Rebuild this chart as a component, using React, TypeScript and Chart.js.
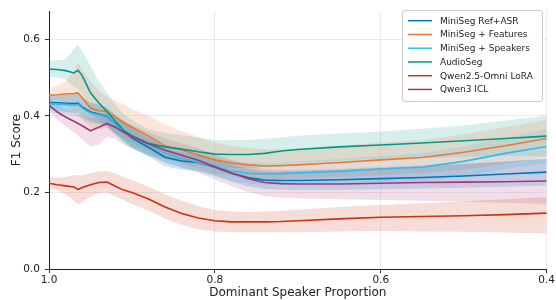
import React, { useEffect, useRef } from "react";
import { Chart, registerables } from "chart.js";

Chart.register(...registerables);

const FONT = '"DejaVu Sans", "Liberation Sans", sans-serif';

const xs = [1.0, 0.99, 0.98, 0.97, 0.965, 0.96, 0.95, 0.94, 0.93, 0.92, 0.91, 0.90, 0.88, 0.86, 0.84, 0.82, 0.80, 0.78, 0.76, 0.74, 0.72, 0.70, 0.65, 0.60, 0.55, 0.50, 0.45, 0.40];

const xTicks = [1.0, 0.8, 0.6, 0.4];
const yTicks = [0.0, 0.2, 0.4, 0.6];

const seriesLabels = ["MiniSeg Ref+ASR", "MiniSeg + Features", "MiniSeg + Speakers", "AudioSeg", "Qwen2.5-Omni LoRA", "Qwen3 ICL"];
const seriesColors = ["#0077BB", "#EE7733", "#33BBEE", "#009988", "#CC3311", "#AA3377"];
const bandColors = ["rgba(0,119,187,0.18)", "rgba(238,119,51,0.18)", "rgba(51,187,238,0.18)", "rgba(0,153,136,0.16)", "rgba(204,51,17,0.17)", "rgba(170,51,119,0.16)"];

// MiniSeg Ref+ASR
const refAsrMean = [0.435, 0.434, 0.433, 0.432, 0.433, 0.423, 0.410, 0.405, 0.398, 0.378, 0.360, 0.342, 0.318, 0.292, 0.282, 0.278, 0.266, 0.250, 0.239, 0.232, 0.231, 0.231, 0.233, 0.236, 0.239, 0.243, 0.248, 0.253];
const refAsrHi = [0.455, 0.454, 0.455, 0.456, 0.458, 0.448, 0.435, 0.430, 0.422, 0.402, 0.384, 0.366, 0.342, 0.316, 0.305, 0.300, 0.288, 0.272, 0.262, 0.255, 0.255, 0.256, 0.259, 0.264, 0.268, 0.274, 0.281, 0.288];
const refAsrLo = [0.415, 0.413, 0.410, 0.408, 0.408, 0.398, 0.385, 0.380, 0.374, 0.354, 0.336, 0.318, 0.294, 0.268, 0.259, 0.256, 0.244, 0.228, 0.216, 0.209, 0.207, 0.206, 0.207, 0.208, 0.210, 0.212, 0.215, 0.218];

// MiniSeg + Features
const featMean = [0.454, 0.455, 0.457, 0.458, 0.460, 0.447, 0.420, 0.414, 0.411, 0.397, 0.382, 0.370, 0.347, 0.321, 0.311, 0.298, 0.285, 0.277, 0.272, 0.269, 0.270, 0.272, 0.278, 0.285, 0.291, 0.305, 0.322, 0.341];
const featHi = [0.472, 0.478, 0.490, 0.515, 0.540, 0.520, 0.490, 0.465, 0.450, 0.440, 0.430, 0.418, 0.400, 0.378, 0.360, 0.345, 0.330, 0.322, 0.316, 0.312, 0.313, 0.315, 0.322, 0.330, 0.337, 0.352, 0.370, 0.390];
const featLo = [0.436, 0.432, 0.425, 0.410, 0.400, 0.390, 0.370, 0.365, 0.368, 0.355, 0.340, 0.330, 0.308, 0.288, 0.274, 0.262, 0.250, 0.243, 0.238, 0.235, 0.235, 0.237, 0.240, 0.245, 0.250, 0.260, 0.275, 0.292];

// MiniSeg + Speakers
const spkMean = [0.431, 0.430, 0.430, 0.428, 0.430, 0.420, 0.407, 0.403, 0.396, 0.377, 0.360, 0.345, 0.325, 0.302, 0.289, 0.279, 0.268, 0.256, 0.250, 0.248, 0.249, 0.251, 0.255, 0.261, 0.266, 0.281, 0.302, 0.320];
const spkHi = [0.453, 0.453, 0.455, 0.456, 0.460, 0.448, 0.433, 0.428, 0.421, 0.402, 0.385, 0.370, 0.350, 0.327, 0.314, 0.304, 0.294, 0.282, 0.277, 0.276, 0.278, 0.281, 0.287, 0.295, 0.302, 0.320, 0.343, 0.364];
const spkLo = [0.409, 0.407, 0.405, 0.400, 0.400, 0.392, 0.381, 0.378, 0.371, 0.352, 0.335, 0.320, 0.300, 0.277, 0.264, 0.254, 0.242, 0.230, 0.223, 0.220, 0.220, 0.221, 0.223, 0.227, 0.230, 0.242, 0.261, 0.276];

// AudioSeg
const audioMean = [0.522, 0.521, 0.518, 0.512, 0.519, 0.505, 0.460, 0.434, 0.411, 0.386, 0.362, 0.348, 0.328, 0.319, 0.313, 0.306, 0.300, 0.299, 0.299, 0.302, 0.308, 0.312, 0.319, 0.324, 0.329, 0.335, 0.341, 0.347];
const audioHi = [0.544, 0.545, 0.547, 0.575, 0.585, 0.570, 0.530, 0.490, 0.460, 0.430, 0.405, 0.390, 0.365, 0.355, 0.350, 0.343, 0.337, 0.336, 0.337, 0.340, 0.344, 0.348, 0.354, 0.359, 0.366, 0.375, 0.388, 0.400];
const audioLo = [0.503, 0.500, 0.495, 0.475, 0.470, 0.455, 0.410, 0.390, 0.370, 0.350, 0.330, 0.315, 0.295, 0.287, 0.279, 0.272, 0.266, 0.264, 0.264, 0.266, 0.272, 0.277, 0.283, 0.288, 0.290, 0.292, 0.295, 0.295];

// Qwen2.5-Omni LoRA
const loraMean = [0.224, 0.220, 0.217, 0.214, 0.208, 0.213, 0.220, 0.226, 0.227, 0.216, 0.206, 0.200, 0.183, 0.162, 0.145, 0.133, 0.126, 0.123, 0.123, 0.123, 0.124, 0.126, 0.131, 0.135, 0.137, 0.139, 0.142, 0.146];
const loraHi = [0.240, 0.238, 0.240, 0.245, 0.245, 0.245, 0.250, 0.255, 0.256, 0.250, 0.240, 0.232, 0.215, 0.195, 0.178, 0.164, 0.154, 0.150, 0.149, 0.150, 0.152, 0.155, 0.162, 0.167, 0.172, 0.177, 0.182, 0.188];
const loraLo = [0.210, 0.205, 0.195, 0.180, 0.168, 0.175, 0.190, 0.198, 0.200, 0.190, 0.180, 0.170, 0.152, 0.132, 0.115, 0.104, 0.098, 0.096, 0.096, 0.096, 0.096, 0.096, 0.098, 0.099, 0.098, 0.097, 0.095, 0.093];

// Qwen3 ICL
const iclMean = [0.428, 0.410, 0.397, 0.386, 0.380, 0.374, 0.361, 0.370, 0.380, 0.370, 0.357, 0.346, 0.327, 0.310, 0.297, 0.284, 0.267, 0.251, 0.236, 0.226, 0.223, 0.222, 0.222, 0.224, 0.226, 0.227, 0.228, 0.230];
const iclHi = [0.442, 0.430, 0.420, 0.410, 0.405, 0.400, 0.395, 0.400, 0.410, 0.400, 0.388, 0.376, 0.357, 0.341, 0.328, 0.316, 0.300, 0.285, 0.271, 0.262, 0.259, 0.259, 0.262, 0.267, 0.271, 0.275, 0.281, 0.288];
const iclLo = [0.414, 0.390, 0.372, 0.358, 0.348, 0.338, 0.320, 0.325, 0.345, 0.340, 0.325, 0.315, 0.297, 0.279, 0.266, 0.252, 0.234, 0.217, 0.201, 0.190, 0.187, 0.185, 0.182, 0.180, 0.178, 0.176, 0.173, 0.170];

const means = [refAsrMean, featMean, spkMean, audioMean, loraMean, iclMean];
const his = [refAsrHi, featHi, spkHi, audioHi, loraHi, iclHi];
const los = [refAsrLo, featLo, spkLo, audioLo, loraLo, iclLo];

const toPts = (arr: number[]) => xs.map((x, i) => ({ x, y: arr[i] }));

const legendPlugin = {
  id: "mplLegend",
  afterDraw(chart: any) {
    const ctx = chart.ctx;
    ctx.save();
    ctx.beginPath();
    const bx = 402.5, by = 10.5, bw = 140, bh = 91;
    if (ctx.roundRect) ctx.roundRect(bx, by, bw, bh, 2.5);
    else ctx.rect(bx, by, bw, bh);
    ctx.fillStyle = "rgba(255,255,255,0.85)";
    ctx.fill();
    ctx.strokeStyle = "#cccccc";
    ctx.lineWidth = 1;
    ctx.stroke();
    ctx.font = `9px ${FONT}`;
    ctx.textBaseline = "middle";
    ctx.textAlign = "left";
    seriesLabels.forEach((lab, i) => {
      const y = 20.7 + i * 13.75;
      ctx.strokeStyle = seriesColors[i];
      ctx.lineWidth = 1.5;
      ctx.beginPath();
      ctx.moveTo(408, y);
      ctx.lineTo(432, y);
      ctx.stroke();
      ctx.fillStyle = "#222222";
      ctx.fillText(lab, 440, y + 0.5);
    });
    ctx.restore();
  },
};

export default function App() {
  const ref = useRef<HTMLCanvasElement | null>(null);

  useEffect(() => {
    if (!ref.current) return;
    const datasets: any[] = [];
    seriesLabels.forEach((label, i) => {
      datasets.push({
        label,
        data: toPts(means[i]),
        borderColor: seriesColors[i],
        backgroundColor: seriesColors[i],
        borderWidth: 1.6,
        pointRadius: 0,
        fill: false,
        tension: 0,
        order: 10 - i,
      });
    });
    seriesLabels.forEach((label, i) => {
      const loIndex = datasets.length;
      datasets.push({
        label: "_lo_" + label,
        data: toPts(los[i]),
        borderWidth: 0,
        borderColor: "rgba(0,0,0,0)",
        pointRadius: 0,
        fill: false,
        order: 100,
      });
      datasets.push({
        label: "_hi_" + label,
        data: toPts(his[i]),
        borderWidth: 0,
        borderColor: "rgba(0,0,0,0)",
        backgroundColor: bandColors[i],
        pointRadius: 0,
        fill: loIndex,
        order: 100,
      });
    });

    const chart = new Chart(ref.current, {
      type: "line",
      data: { datasets },
      plugins: [legendPlugin],
      options: {
        animation: false,
        responsive: false,
        maintainAspectRatio: false,
        parsing: false as any,
        layout: { padding: { top: 5, right: 9, left: 0, bottom: 0 } },
        plugins: {
          legend: { display: false },
          tooltip: { enabled: false },
          filler: { drawTime: "beforeDatasetsDraw", propagate: false },
        } as any,
        scales: {
          x: {
            type: "linear",
            reverse: true,
            min: 0.4,
            max: 1.0,
            afterBuildTicks: (s: any) => {
              s.ticks = xTicks.map((v) => ({ value: v }));
            },
            afterFit: (s: any) => {
              s.height = 31;
            },
            ticks: {
              callback: (v: any) => Number(v).toFixed(1),
              font: { family: FONT, size: 10.5 },
              color: "#222222",
              padding: 1,
              maxRotation: 0,
              autoSkip: false,
            },
            grid: { color: "rgba(0,0,0,0.08)", tickColor: "#333333", tickLength: 4, drawTicks: true },
            border: { display: true, color: "#222222", width: 1 },
            title: {
              display: true,
              text: "Dominant Speaker Proportion",
              font: { family: FONT, size: 12 },
              color: "#222222",
              padding: { top: 0, bottom: 0 },
            },
          },
          y: {
            type: "linear",
            min: 0,
            max: 0.673,
            afterBuildTicks: (s: any) => {
              s.ticks = yTicks.map((v) => ({ value: v }));
            },
            afterFit: (s: any) => {
              s.width = 49;
            },
            ticks: {
              callback: (v: any) => Number(v).toFixed(1),
              font: { family: FONT, size: 10.5 },
              color: "#222222",
              padding: 5,
            },
            grid: { color: "rgba(0,0,0,0.08)", tickColor: "#333333", tickLength: 4, drawTicks: true },
            border: { display: true, color: "#222222", width: 1 },
            title: {
              display: true,
              text: "F1 Score",
              font: { family: FONT, size: 12 },
              color: "#222222",
              padding: { top: 10, bottom: 0 },
            },
          },
        },
      } as any,
    });
    return () => chart.destroy();
  }, []);

  return (
    <div style={{ position: "fixed", left: 0, top: 0, width: 556, height: 300, background: "#fff" }}>
      <canvas ref={ref} width={556} height={300} style={{ display: "block", width: 556, height: 300 }} />
    </div>
  );
}
